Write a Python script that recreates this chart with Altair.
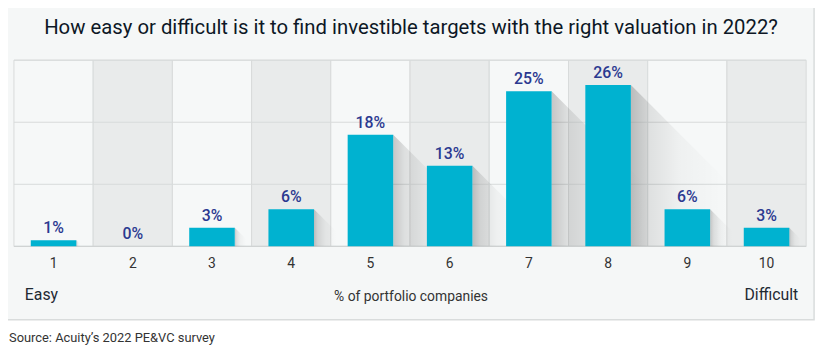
import altair as alt
import pandas as pd

# ---- data ----
scores = [1, 2, 3, 4, 5, 6, 7, 8, 9, 10]
shares = [1, 0, 3, 6, 18, 13, 25, 26, 6, 3]
labels = ["1%", "0%", "3%", "6%", "18%", "13%", "25%", "26%", "6%", "3%"]
title_text = "How easy or difficult is it to find investible targets with the right valuation in 2022?"
x_title = "% of portfolio companies"
left_label = "Easy"
right_label = "Difficult"
source_text = "Source: Acuity\u2019s 2022 PE&VC survey"

W, H = 800, 188
YMAX = 30
HALF = 0.2875  # half bar width in x units

bars = pd.DataFrame({
    "score": scores,
    "share": shares,
    "label": labels,
    "x0": [s - HALF for s in scores],
    "x1": [s + HALF for s in scores],
    "c0": [s - 0.5 for s in scores],
    "c1": [s + 0.5 for s in scores],
    "band": ["odd" if s % 2 else "even" for s in scores],
})

# shadow triangles derived from the bar values (45 degree diagonal)
px_per_unit_x = W / 10.0
px_per_unit_y = H / YMAX
rows = []
for s, v in zip(scores, shares):
    if v <= 0:
        continue
    xr = s + HALF
    dx = v * px_per_unit_y / px_per_unit_x
    rows.append({"score": s, "sx": xr, "sy": v})
    rows.append({"score": s, "sx": xr + dx, "sy": 0})
shadow = pd.DataFrame(rows)

xs = alt.Scale(domain=[0.5, 10.5], nice=False, zero=False)
ys = alt.Scale(domain=[0, YMAX], nice=False)

panel = alt.Chart(pd.DataFrame({"a": [0]})).mark_rect(
    fill="#f5f7f7", stroke="#d9dcdc", strokeWidth=1.5
).encode(
    x=alt.value(-20), x2=alt.value(808), y=alt.value(-60), y2=alt.value(262)
)

cols = alt.Chart(bars).mark_rect(stroke="#d8dbdb", strokeWidth=1).encode(
    x=alt.X("c0:Q", scale=xs, axis=None),
    x2="c1",
    y=alt.value(0),
    y2=alt.value(H),
    fill=alt.Fill("band:N", scale=alt.Scale(domain=["odd", "even"], range=["#f6f8f8", "#e9ebeb"]), legend=None),
)

grid = alt.Chart(pd.DataFrame({"g": [10, 20, 30]})).mark_rule(color="#d8dbdb", strokeWidth=1).encode(
    y=alt.Y("g:Q", scale=ys, axis=None),
    x=alt.value(0), x2=alt.value(W),
)

base_rule = alt.Chart(pd.DataFrame({"g": [0]})).mark_rule(color="#d0d3d3", strokeWidth=1.5).encode(
    y=alt.Y("g:Q", scale=ys, axis=None),
    x=alt.value(0), x2=alt.value(W),
)

shadow_layer = alt.Chart(shadow).mark_area(
    fill=alt.Gradient(
        gradient="linear",
        x1=0, x2=1, y1=0, y2=0,
        stops=[
            alt.GradientStop(offset=0, color="rgba(0,0,0,0.20)"),
            alt.GradientStop(offset=0.1, color="rgba(0,0,0,0.10)"),
            alt.GradientStop(offset=0.3, color="rgba(0,0,0,0.03)"),
            alt.GradientStop(offset=0.6, color="rgba(0,0,0,0)"),
        ],
    ),
    opacity=1,
).encode(
    x=alt.X("sx:Q", scale=xs, axis=None),
    y=alt.Y("sy:Q", scale=ys, axis=None, stack=None),
    detail="score:N",
)

bar_layer = alt.Chart(bars).mark_rect(color="#00b2d0").encode(
    x=alt.X("x0:Q", scale=xs, axis=None),
    x2="x1",
    y=alt.Y("share:Q", scale=ys, axis=None),
    y2=alt.datum(0),
)

val_text = alt.Chart(bars).mark_text(
    font="Roboto", fontSize=16, fontWeight=500, color="#2b3990", dy=-7, baseline="alphabetic"
).encode(
    x=alt.X("score:Q", scale=xs, axis=None),
    y=alt.Y("share:Q", scale=ys, axis=None),
    text="label:N",
)

tick_text = alt.Chart(bars).mark_text(
    font="Roboto", fontSize=14, color="#333333", baseline="middle"
).encode(
    x=alt.X("score:Q", scale=xs, axis=None),
    y=alt.value(H + 18),
    text="score:N",
)

def label(txt, x, y, size, align="center", color="#1f2a33", weight=400, font="Roboto"):
    return alt.Chart(pd.DataFrame({"t": [txt]})).mark_text(
        font=font, fontSize=size, align=align, baseline="middle", color=color, fontWeight=weight
    ).encode(x=alt.value(x), y=alt.value(y), text="t:N")

title = label(title_text, W / 2 + 1, -32, 20.5, color="#0d1726", weight=400)
easy = label(left_label, 11, H + 49, 16, align="left", color="#1f2a33")
diff = label(right_label, 792, H + 49, 16, align="right", color="#1f2a33")
xt = label(x_title, W / 2 + 1, H + 51, 14, color="#333333")
src = label(source_text, -5, H + 93, 13, align="left", color="#333333")

chart = alt.layer(
    panel, cols, grid, base_rule, shadow_layer, bar_layer, val_text, tick_text,
    title, easy, diff, xt, src
).properties(
    width=W, height=H,
    autosize=alt.AutoSizeParams(type="none"),
    padding={"left": 6, "top": 51, "right": 16, "bottom": 110},
    background="white",
).configure_view(strokeWidth=0)

chart.save("out.html", embed_options={"renderer": "svg", "actions": False})
